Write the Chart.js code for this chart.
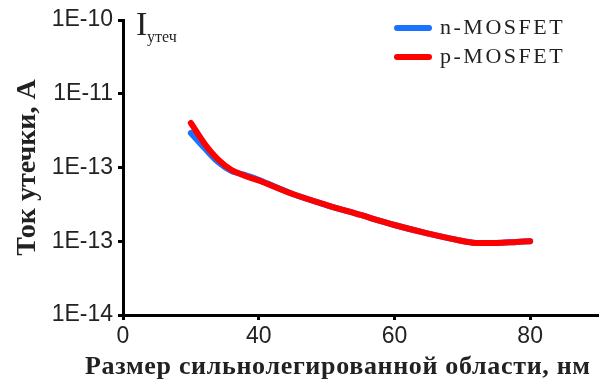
<!DOCTYPE html>
<html><head><meta charset="utf-8">
<script src="https://cdn.jsdelivr.net/npm/chart.js@4.4.1/dist/chart.umd.min.js"></script>
<style>html,body{margin:0;padding:0;background:#fff;overflow:hidden;}</style>
</head><body>
<canvas id="c" width="601" height="387" style="width:601px;height:387px;display:block"></canvas>
<script>
const sizes   = [30, 32, 34, 36, 38, 40, 45, 50, 55, 60, 65, 70, 72, 75, 78, 80];
const nMosfet = [2.94e-12, 1.84e-12, 1.19e-12, 8.97e-13, 7.9e-13, 6.8e-13, 4.37e-13, 3.10e-13, 2.27e-13, 1.66e-13, 1.27e-13, 1.01e-13, 9.5e-14, 9.5e-14, 9.8e-14, 1.0e-13];
const pMosfet = [4.01e-12, 2.12e-12, 1.29e-12, 9.25e-13, 7.67e-13, 6.67e-13, 4.37e-13, 3.10e-13, 2.27e-13, 1.66e-13, 1.27e-13, 1.01e-13, 9.5e-14, 9.5e-14, 9.8e-14, 1.0e-13];
const seriesNames = ["n-MOSFET", "p-MOSFET"];
const xTickValues = [20, 40, 60, 80];
const xTickLabels = ["0", "40", "60", "80"];
const yTickValues = [1e-14, 1e-13, 1e-12, 1e-11, 1e-10];
const yTickLabels = ["1E-14", "1E-13", "1E-13", "1E-11", "1E-10"];
const xTitle = "Размер сильнолегированной области, нм";
const yTitle = "Ток утечки, А";
const annotMain = "I";
const annotSub = "утеч";

const BLUE = "#1a73ff", RED = "#ff0000";

const overlay = {
  id: "overlay",
  afterDraw(chart) {
    const ctx = chart.ctx;
    ctx.save();
    ctx.fillStyle = "#222";
    ctx.textBaseline = "alphabetic";
    ctx.textAlign = "left";
    // annotation
    ctx.font = "34px 'Liberation Serif'";
    ctx.fillText(annotMain, 136, 35);
    ctx.font = "16px 'Liberation Serif'";
    ctx.fillText(annotSub, 147, 42);
    // x axis title (wider than the plot area, so drawn here)
    ctx.font = "bold 26px 'Liberation Serif'";
    const w = ctx.measureText(xTitle).width;
    const target = 505;
    const ls = Math.max(0, (target - w) / (xTitle.length - 1));
    try { ctx.letterSpacing = ls + "px"; } catch (e) {}
    ctx.fillText(xTitle, 85, 374);
    try { ctx.letterSpacing = "0px"; } catch (e) {}
    // legend
    const rows = [28, 57];
    chart.data.datasets.forEach((ds, i) => {
      const y = rows[i];
      ctx.strokeStyle = ds.borderColor;
      ctx.lineWidth = 6;
      ctx.lineCap = "round";
      ctx.beginPath();
      ctx.moveTo(397, y);
      ctx.lineTo(429, y);
      ctx.stroke();
      ctx.fillStyle = "#222";
      ctx.font = "22px 'Liberation Serif'";
      ctx.textBaseline = "middle";
      try { ctx.letterSpacing = "2.5px"; } catch (e) {}
      ctx.fillText(ds.label, 440, y);
      try { ctx.letterSpacing = "0px"; } catch (e) {}
    });
    ctx.restore();
  }
};

new Chart(document.getElementById("c"), {
  type: "line",
  data: {
    labels: sizes,
    datasets: [
      { label: seriesNames[0], data: sizes.map((x, i) => ({x, y: nMosfet[i]})), borderColor: BLUE, backgroundColor: BLUE, borderWidth: 6, pointRadius: 0, tension: 0.3, order: 1, borderCapStyle: "round", borderJoinStyle: "round" },
      { label: seriesNames[1], data: sizes.map((x, i) => ({x, y: pMosfet[i]})), borderColor: RED, backgroundColor: RED, borderWidth: 6, pointRadius: 0, tension: 0.3, order: 0, borderCapStyle: "round", borderJoinStyle: "round" }
    ]
  },
  options: {
    responsive: false,
    animation: false,
    devicePixelRatio: 1,
    layout: { padding: { top: 20, right: 3, left: 0, bottom: 0 } },
    plugins: { legend: { display: false }, tooltip: { enabled: false } },
    scales: {
      x: {
        type: "linear", min: 20, max: 90,
        afterBuildTicks: s => { s.ticks = xTickValues.map(v => ({ value: v })); },
        afterFit: s => { s.height = 72; },
        ticks: { callback: v => xTickLabels[xTickValues.indexOf(v)], font: { family: "'Liberation Sans'", size: 23 }, color: "#222", padding: 3, maxRotation: 0, autoSkip: false },
        grid: { display: true, drawOnChartArea: false, drawTicks: true, tickLength: 5, tickWidth: 3, tickColor: "#000" },
        border: { display: true, color: "#000", width: 3 },
        title: { display: false }
      },
      y: {
        type: "logarithmic", min: 1e-14, max: 1e-10,
        afterBuildTicks: s => { s.ticks = yTickValues.map(v => ({ value: v })); },
        afterFit: s => { s.width = 123; },
        ticks: { callback: v => yTickLabels[yTickValues.indexOf(v)], font: { family: "'Liberation Sans'", size: 23 }, color: "#222", padding: 5, autoSkip: false },
        grid: { display: true, drawOnChartArea: false, drawTicks: true, tickLength: 5, tickWidth: 3, tickColor: "#000" },
        border: { display: true, color: "#000", width: 3 },
        title: { display: true, text: yTitle, font: { family: "'Liberation Serif'", size: 28, weight: "bold" }, color: "#222", padding: { top: 11, bottom: 0 } }
      }
    }
  },
  plugins: [overlay]
});
</script>
</body></html>
